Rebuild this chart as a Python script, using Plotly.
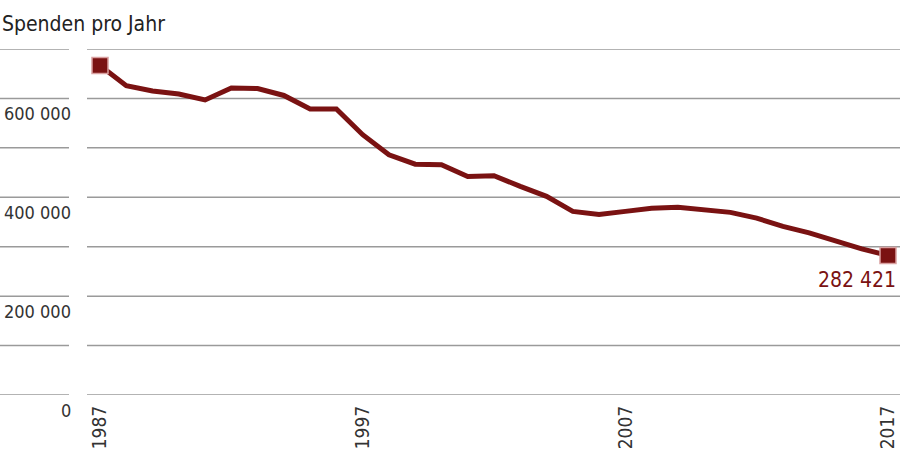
import plotly.graph_objects as go

# Spenden pro Jahr, 1987-2017
jahre = list(range(1987, 2018))
spenden = [666700, 625600, 615000, 609000, 597000, 621000, 620000, 606000,
           578500, 578500, 526600, 486000, 467000, 466000, 442000, 443700,
           422000, 402000, 371500, 365000, 371500, 378000, 380000, 375000,
           369500, 358000, 341000, 328000, 311000, 295500, 282421]

gitter = list(range(0, 700001, 100000))
y_ticks = [0, 200000, 400000, 600000]
y_labels = ["0", "200 000", "400 000", "600 000"]
x_ticks = [1987, 1997, 2007, 2017]

rot = "#7a1212"
grau = "#9a9a9a"
schrift = "DejaVu Sans Condensed, Liberation Sans Narrow, sans-serif"

fig = go.Figure()
fig.add_trace(go.Scatter(x=jahre, y=spenden, mode="lines",
                         line=dict(color=rot, width=5), hoverinfo="skip",
                         cliponaxis=False))
fig.add_trace(go.Scatter(x=[jahre[0], jahre[-1]], y=[spenden[0], spenden[-1]],
                         mode="markers", cliponaxis=False,
                         marker=dict(symbol="square", size=16, color=rot,
                                     line=dict(color="#d9a0a0", width=1.5)),
                         hoverinfo="skip"))

# Gitterlinien: kurzes Stück links + durchgehend im Plot
for v in gitter:
    fig.add_shape(type="line", xref="paper", yref="y", layer="below",
                  x0=-87 / 813, x1=-18 / 813, y0=v, y1=v,
                  line=dict(color=grau, width=1.5))
    fig.add_shape(type="line", xref="paper", yref="y", layer="below",
                  x0=0, x1=1, y0=v, y1=v,
                  line=dict(color=grau, width=1.5))

for v, t in zip(y_ticks, y_labels):
    fig.add_annotation(xref="paper", yref="y", x=-14 / 813, y=v, text=t,
                       showarrow=False, xanchor="right", yanchor="top",
                       yshift=-3, font=dict(family=schrift, size=18, color="#333"))

fig.add_annotation(x=jahre[-1], y=spenden[-1], text=f"{spenden[-1]:,}".replace(",", " "),
                   showarrow=False, xanchor="right", yanchor="top", xshift=10, yshift=-11,
                   font=dict(family=schrift, size=21, color=rot))

fig.add_annotation(xref="paper", yref="paper", x=-87 / 813, y=1, text="Spenden pro Jahr",
                   showarrow=False, xanchor="left", yanchor="bottom", yshift=11,
                   font=dict(family=schrift, size=21, color="#222"))

fig.update_layout(
    width=900, height=451,
    margin=dict(l=87, r=0, t=49, b=56),
    plot_bgcolor="white", paper_bgcolor="white",
    showlegend=False,
    xaxis=dict(range=[1986.505, 2017.457], tickvals=x_ticks, tickangle=-90,
               showgrid=False, zeroline=False, showline=False, ticks="",
               ticklabelstandoff=6,
               tickfont=dict(family=schrift, size=19, color="#333")),
    yaxis=dict(range=[0, 700000], showticklabels=False,
               showgrid=False, zeroline=False, showline=False, ticks=""),
)

fig.write_html("out.html", config={"displayModeBar": False},
               post_script="document.body.style.margin='0';")
